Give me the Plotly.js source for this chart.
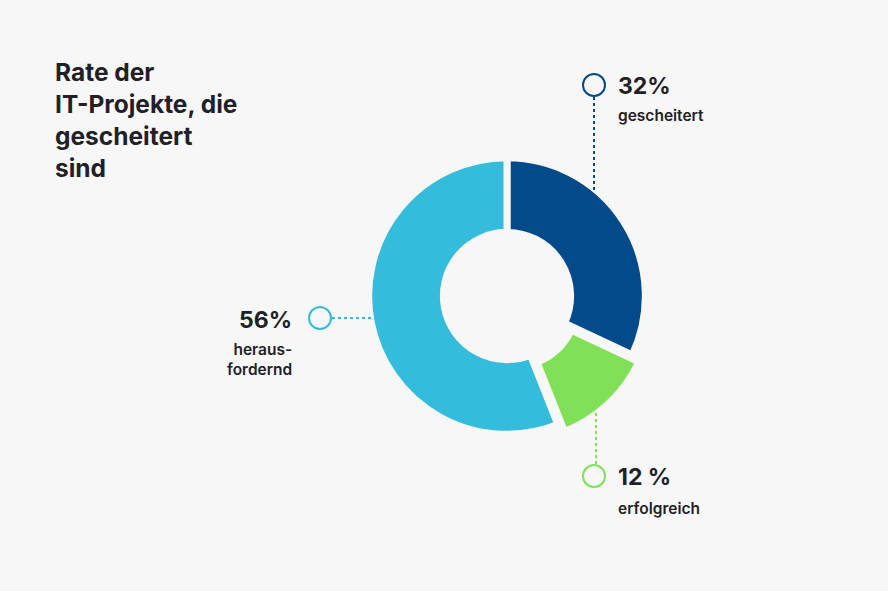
<!DOCTYPE html>
<html>
<head>
<meta charset="utf-8">
<script src="https://cdn.plot.ly/plotly-3.0.1.min.js"></script>
<style>
html,body{margin:0;padding:0;background:#f7f7f8;}
#chart{width:888px;height:591px;}
</style>
</head>
<body>
<div id="chart"></div>
<script>
const categories = ["gescheitert", "erfolgreich", "herausfordernd"];
const values = [32, 12, 56];
const pctLabels = ["32%", "12 %", "56%"];
const catLabels = ["gescheitert", "erfolgreich", "heraus-<br>fordernd"];
const colors = ["#034a8b", "#80e158", "#33bcdb"];
const pulls = [0, 0.07, 0];

const W = 888, H = 591;
const px = x => x / W;
const py = y => 1 - y / H;
const BG = "#f7f7f8";
const TXT = "#1f2127";
const FONT = "Inter, Roboto, 'Open Sans', sans-serif";

const CX = 507, CY = 296, HALF = 148;
const trace = {
  type: "pie",
  labels: categories,
  values: values,
  hole: 0.46,
  sort: false,
  direction: "clockwise",
  rotation: 0,
  pull: pulls,
  textinfo: "none",
  hoverinfo: "label+percent",
  marker: { colors: colors, line: { color: BG, width: 7 } },
  domain: { x: [(CX - HALF) / W, (CX + HALF) / W], y: [(H - CY - HALF) / H, (H - CY + HALF) / H] }
};

function circle(cx, cy, r, color) {
  return { type: "circle", xref: "paper", yref: "paper",
    x0: px(cx - r), x1: px(cx + r), y0: py(cy + r), y1: py(cy - r),
    line: { color: color, width: 2 }, fillcolor: "rgba(0,0,0,0)" };
}
function dline(x0, y0, x1, y1, color) {
  return { type: "line", xref: "paper", yref: "paper",
    x0: px(x0), x1: px(x1), y0: py(y0), y1: py(y1),
    line: { color: color, width: 2, dash: "dot" } };
}

const shapes = [
  circle(594, 85, 11, colors[0]),
  dline(594, 97, 594, 192, colors[0]),
  circle(594, 476, 11, colors[1]),
  dline(596, 413, 596, 464, colors[1]),
  circle(320, 318, 11, colors[2]),
  dline(332, 318, 371, 318, colors[2])
];

function ann(text, x, y, size, xanchor, weight) {
  return { text: text, xref: "paper", yref: "paper", x: px(x), y: py(y),
    xanchor: xanchor, yanchor: "middle", showarrow: false, align: xanchor === "right" ? "right" : "left",
    font: { family: FONT, size: size, color: TXT, weight: weight } };
}

const annotations = [
  { text: "Rate der<br>IT-Projekte, die<br>gescheitert<br>sind", xref: "paper", yref: "paper",
    x: px(53), y: py(55), xanchor: "left", yanchor: "top", showarrow: false, align: "left",
    font: { family: FONT, size: 24.5, color: TXT, weight: 700 } },
  ann(pctLabels[0], 616, 86, 23, "left", 700),
  ann(catLabels[0], 616, 116, 15.5, "left", 600),
  ann(pctLabels[1], 616, 477, 23, "left", 700),
  ann(catLabels[1], 616, 508, 15.5, "left", 600),
  ann(pctLabels[2], 294, 320, 23, "right", 700),
  ann(catLabels[2], 294, 359, 15.5, "right", 600)
];

const layout = {
  width: W, height: H,
  margin: { l: 0, r: 0, t: 0, b: 0 },
  paper_bgcolor: BG, plot_bgcolor: BG,
  showlegend: false,
  shapes: shapes,
  annotations: annotations
};

Plotly.newPlot("chart", [trace], layout, { displayModeBar: false, staticPlot: true });
</script>
</body>
</html>
